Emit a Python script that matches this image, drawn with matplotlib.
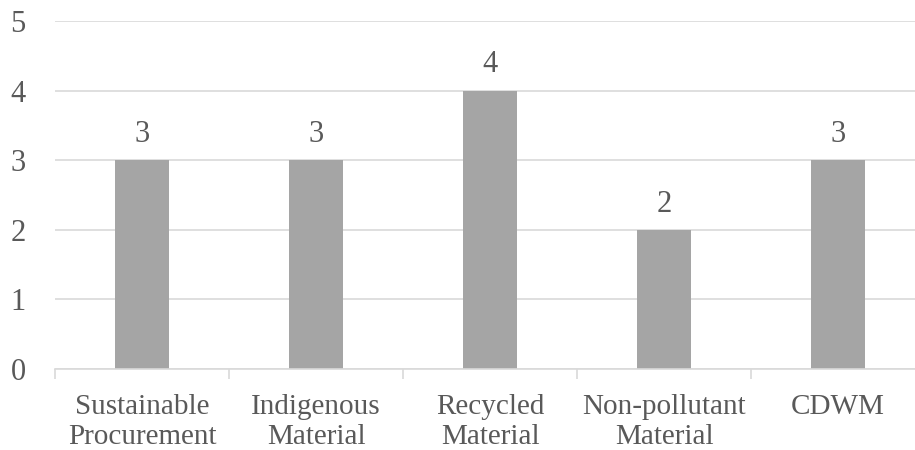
import numpy as np
import matplotlib.pyplot as plt

categorias = ["Sustainable\nProcurement", "Indigenous\nMaterial", "Recycled\nMaterial",
              "Non-pollutant\nMaterial", "CDWM"]
valores = [3, 3, 4, 2, 3]

plt.rcParams['font.family'] = ['Liberation Serif', 'DejaVu Serif']
gris_texto = '#595959'

fig = plt.figure(figsize=(9.15, 4.5), dpi=100)
ax = fig.add_axes([55 / 915, 1 - 369 / 450, 870 / 915, 348 / 450])

x = np.arange(len(valores))
barras = ax.bar(x, valores, width=0.316, color='#A5A5A5', zorder=2)

# Etiquetas de valor encima de cada barra
for xi, v in zip(x, valores):
    ax.annotate(str(v), (xi, v), xytext=(0, 8), textcoords='offset points',
                ha='center', va='bottom', fontsize=22, color=gris_texto)

ax.set_xlim(-0.5, len(valores) - 0.5)
ax.set_ylim(0, 5)
ax.set_yticks(range(6))
ax.yaxis.grid(True, color='#D9D9D9', linewidth=1.2, zorder=0)

ax.set_xticks(x)
ax.set_xticklabels(categorias, fontsize=21, color=gris_texto, linespacing=1.22)
ax.set_xticks(np.arange(len(valores) + 1) - 0.5, minor=True)
ax.tick_params(axis='x', which='major', length=0, pad=18)
ax.tick_params(axis='x', which='minor', length=7, color='#D9D9D9', width=1.2)
ax.tick_params(axis='y', length=0, pad=21, labelsize=22, labelcolor=gris_texto)

for lado in ['top', 'right', 'left']:
    ax.spines[lado].set_visible(False)
ax.spines['bottom'].set_color('#D9D9D9')
ax.spines['bottom'].set_linewidth(1.2)

plt.savefig('out.png', dpi=100)
